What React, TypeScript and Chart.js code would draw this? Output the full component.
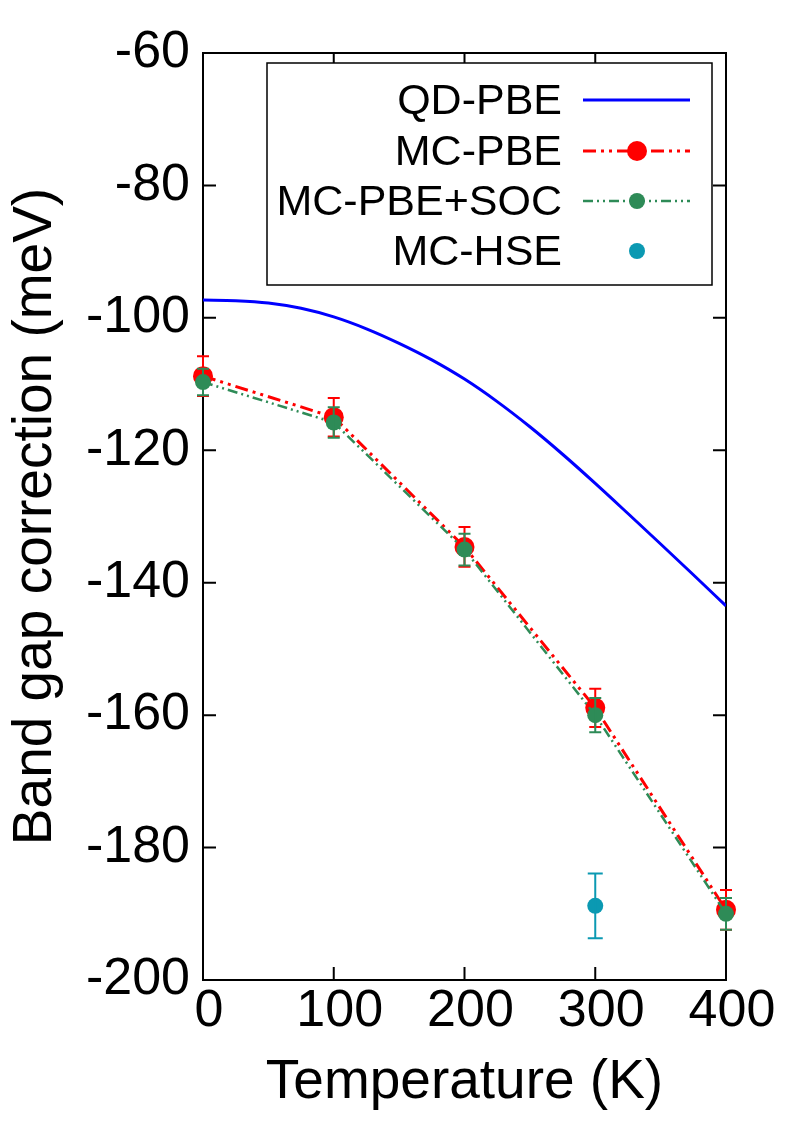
import React, { useEffect, useRef } from "react";
import { Chart, registerables } from "chart.js";

Chart.register(...registerables);

// ---- Data ----
const temperatures = [0, 100, 200, 300, 400];
const mcPbe = [-108.8, -115.0, -134.6, -158.9, -189.4];
const mcPbeErr = [3.0, 2.9, 3.0, 2.9, 3.0];
const mcPbeSoc = [-109.7, -115.8, -135.0, -160.0, -190.0];
const mcPbeSocErr = [2.0, 2.3, 2.4, 2.6, 2.4];
const hseTemperatures = [300];
const mcHse = [-188.8];
const mcHseErr = [4.9];
const qdTemperatures = [0, 25, 50, 75, 100, 125, 150, 175, 200, 225, 250, 275, 300, 325, 350, 375, 400];
const qdPbe = [-97.3, -97.4, -97.75, -98.55, -99.85, -101.65, -103.85, -106.35, -109.25, -112.65, -116.45, -120.6, -125.0, -129.55, -134.15, -138.8, -143.5];
const xTicks = [0, 100, 200, 300, 400];
const yTicks = [-200, -180, -160, -140, -120, -100, -80, -60];

const legendLabels = ["QD-PBE", "MC-PBE", "MC-PBE+SOC", "MC-HSE"];
const FONT = "'Liberation Sans', Arial, Helvetica, sans-serif";

const BLUE = "#0000ff";
const RED = "#ff0000";
const GREEN = "#2e8b57";
const TEAL = "#0b99b2";
const RED_DASH = [13, 5, 3, 5, 3, 5];
const GREEN_DASH = [10, 4, 2, 4, 2, 4];

const toPoints = (xs: number[], ys: number[]) => xs.map((x, i) => ({ x, y: ys[i] }));

const frameTicksPlugin = {
  id: "frameTicks",
  beforeDatasetsDraw(chart: any) {
    const { ctx, chartArea } = chart;
    const { left, right, top, bottom } = chartArea;
    const xs = chart.scales.x;
    const ys = chart.scales.y;
    const len = 13;
    ctx.save();
    ctx.strokeStyle = "#000";
    ctx.lineWidth = 2;
    ctx.setLineDash([]);
    ctx.strokeRect(left, top, right - left, bottom - top);
    ctx.beginPath();
    xTicks.forEach((t) => {
      const px = xs.getPixelForValue(t);
      ctx.moveTo(px, bottom);
      ctx.lineTo(px, bottom - len);
      ctx.moveTo(px, top);
      ctx.lineTo(px, top + len);
    });
    yTicks.forEach((t) => {
      const py = ys.getPixelForValue(t);
      ctx.moveTo(left, py);
      ctx.lineTo(left + len, py);
      ctx.moveTo(right, py);
      ctx.lineTo(right - len, py);
    });
    ctx.stroke();
    ctx.restore();
  },
};

const errorBarPlugin = {
  id: "errorBars",
  afterDatasetDraw(chart: any, args: any) {
    const ds = chart.data.datasets[args.index];
    if (!ds.errorBars) return;
    const { ctx } = chart;
    const xs = chart.scales.x;
    const ys = chart.scales.y;
    const cap = ds.errorCap || 6;
    ctx.save();
    ctx.strokeStyle = ds.errorColor;
    ctx.lineWidth = 2;
    ctx.setLineDash([]);
    ctx.beginPath();
    ds.data.forEach((p: any, i: number) => {
      const e = ds.errorBars[i];
      const px = xs.getPixelForValue(p.x);
      const pt = ys.getPixelForValue(p.y + e);
      const pb = ys.getPixelForValue(p.y - e);
      ctx.moveTo(px, pt);
      ctx.lineTo(px, pb);
      ctx.moveTo(px - cap, pt);
      ctx.lineTo(px + cap, pt);
      ctx.moveTo(px - cap, pb);
      ctx.lineTo(px + cap, pb);
    });
    ctx.stroke();
    ctx.restore();
  },
};

const legendPlugin = {
  id: "customLegend",
  afterDraw(chart: any) {
    const { ctx } = chart;
    const boxL = 267, boxT = 63, boxR = 712, boxB = 285;
    ctx.save();
    ctx.fillStyle = "#fff";
    ctx.fillRect(boxL, boxT, boxR - boxL, boxB - boxT);
    ctx.strokeStyle = "#000";
    ctx.lineWidth = 1.5;
    ctx.setLineDash([]);
    ctx.strokeRect(boxL, boxT, boxR - boxL, boxB - boxT);
    const textRight = 562;
    const rows = [100, 151, 201, 251];
    const sx0 = 583, sx1 = 690, mx = 637;
    ctx.font = `43px ${FONT}`;
    ctx.fillStyle = "#000";
    ctx.textAlign = "right";
    ctx.textBaseline = "middle";
    legendLabels.forEach((lab, i) => ctx.fillText(lab, textRight, rows[i] + 2));
    // QD-PBE
    ctx.strokeStyle = BLUE;
    ctx.lineWidth = 3;
    ctx.beginPath();
    ctx.moveTo(sx0, rows[0]);
    ctx.lineTo(sx1, rows[0]);
    ctx.stroke();
    // MC-PBE
    ctx.strokeStyle = RED;
    ctx.lineWidth = 3;
    ctx.setLineDash(RED_DASH);
    ctx.beginPath();
    ctx.moveTo(sx0, rows[1]);
    ctx.lineTo(sx1, rows[1]);
    ctx.stroke();
    ctx.setLineDash([]);
    ctx.fillStyle = RED;
    ctx.beginPath();
    ctx.arc(mx, rows[1], 10, 0, Math.PI * 2);
    ctx.fill();
    // MC-PBE+SOC
    ctx.strokeStyle = GREEN;
    ctx.lineWidth = 2.5;
    ctx.setLineDash(GREEN_DASH);
    ctx.beginPath();
    ctx.moveTo(sx0, rows[2]);
    ctx.lineTo(sx1, rows[2]);
    ctx.stroke();
    ctx.setLineDash([]);
    ctx.fillStyle = GREEN;
    ctx.beginPath();
    ctx.arc(mx, rows[2], 8, 0, Math.PI * 2);
    ctx.fill();
    // MC-HSE
    ctx.fillStyle = TEAL;
    ctx.beginPath();
    ctx.arc(mx, rows[3], 8, 0, Math.PI * 2);
    ctx.fill();
    ctx.restore();
  },
};

export default function App() {
  const canvasRef = useRef<HTMLCanvasElement | null>(null);

  useEffect(() => {
    if (!canvasRef.current) return;
    const chart = new Chart(canvasRef.current, {
      type: "line",
      data: {
        datasets: [
          {
            label: legendLabels[0],
            data: toPoints(qdTemperatures, qdPbe),
            borderColor: BLUE,
            borderWidth: 3,
            pointRadius: 0,
            cubicInterpolationMode: "monotone",
            fill: false,
            order: 4,
          },
          {
            label: legendLabels[1],
            data: toPoints(temperatures, mcPbe),
            borderColor: RED,
            backgroundColor: RED,
            borderWidth: 3,
            borderDash: RED_DASH,
            pointRadius: 10,
            pointBorderWidth: 0,
            pointBackgroundColor: RED,
            tension: 0,
            fill: false,
            clip: false,
            order: 3,
            errorBars: mcPbeErr,
            errorColor: RED,
            errorCap: 6,
          } as any,
          {
            label: legendLabels[2],
            data: toPoints(temperatures, mcPbeSoc),
            borderColor: GREEN,
            backgroundColor: GREEN,
            borderWidth: 2.5,
            borderDash: GREEN_DASH,
            pointRadius: 8,
            pointBorderWidth: 0,
            pointBackgroundColor: GREEN,
            tension: 0,
            fill: false,
            clip: false,
            order: 2,
            errorBars: mcPbeSocErr,
            errorColor: GREEN,
            errorCap: 6,
          } as any,
          {
            label: legendLabels[3],
            data: toPoints(hseTemperatures, mcHse),
            borderColor: TEAL,
            backgroundColor: TEAL,
            showLine: false,
            pointRadius: 8,
            pointBorderWidth: 0,
            pointBackgroundColor: TEAL,
            clip: false,
            order: 1,
            errorBars: mcHseErr,
            errorColor: TEAL,
            errorCap: 7.5,
          } as any,
        ],
      },
      options: {
        responsive: false,
        devicePixelRatio: 1,
        animation: false,
        layout: { padding: { top: 53, right: 68, bottom: 0, left: 0 } },
        plugins: { legend: { display: false }, tooltip: { enabled: false } },
        scales: {
          x: {
            type: "linear",
            min: 0,
            max: 400,
            afterBuildTicks: (s: any) => {
              s.ticks = xTicks.map((v) => ({ value: v }));
            },
            afterFit: (s: any) => {
              s.height = 156;
            },
            grid: { display: false, drawTicks: false },
            border: { display: false },
            ticks: {
              color: "#000",
              font: { family: FONT, size: 52 },
              padding: 0,
              labelOffset: 6,
              maxRotation: 0,
              autoSkip: false,
            },
            title: {
              display: true,
              text: "Temperature (K)",
              color: "#000",
              font: { family: FONT, size: 55 },
              padding: { top: 0, bottom: 20 },
            },
          },
          y: {
            type: "linear",
            min: -200,
            max: -60,
            afterBuildTicks: (s: any) => {
              s.ticks = yTicks.map((v) => ({ value: v }));
            },
            afterFit: (s: any) => {
              s.width = 203;
            },
            grid: { display: false, drawTicks: false },
            border: { display: false },
            ticks: {
              color: "#000",
              font: { family: FONT, size: 52 },
              padding: 13,
              autoSkip: false,
            },
            title: {
              display: true,
              text: "Band gap correction (meV)",
              color: "#000",
              font: { family: FONT, size: 55 },
              padding: { top: 3, bottom: 0 },
            },
          },
        },
      } as any,
      plugins: [frameTicksPlugin, errorBarPlugin, legendPlugin],
    });
    return () => chart.destroy();
  }, []);

  return (
    <div style={{ position: "absolute", left: 0, top: 0, width: 794, height: 1136, background: "#fff" }}>
      <canvas ref={canvasRef} width={794} height={1136} style={{ width: 794, height: 1136, display: "block" }} />
    </div>
  );
}
